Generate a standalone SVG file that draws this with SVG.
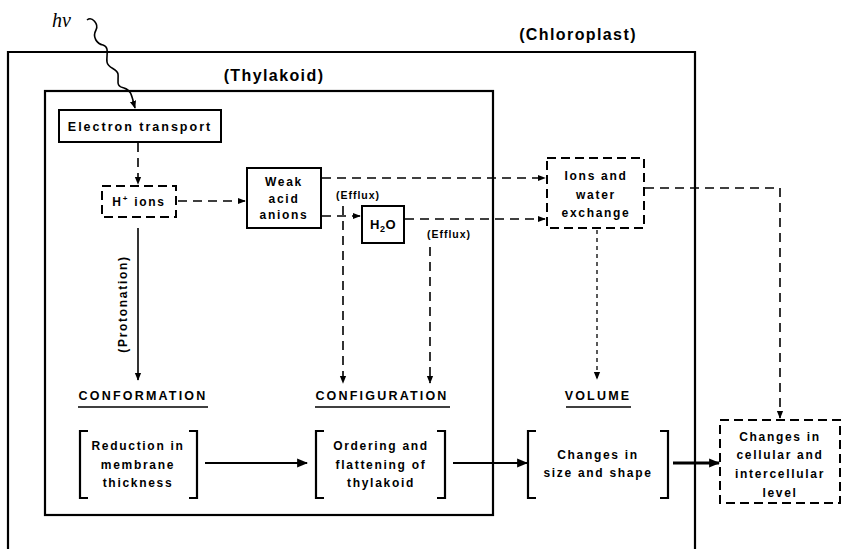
<svg xmlns="http://www.w3.org/2000/svg" width="843" height="549" viewBox="0 0 843 549">
  <defs>
    <style>
      .t { font-family: "Liberation Sans", Arial, sans-serif; font-weight: bold; font-size: 12px; letter-spacing: 1.7px; fill: #000; text-anchor: middle; }
      .big { font-size: 16px; letter-spacing: 1.4px; }
      .head { font-size: 12.5px; letter-spacing: 2.2px; }
      .lbl { font-size: 10.5px; letter-spacing: 1px; }
      .box { fill: none; stroke: #000; stroke-width: 2; }
      .dbox { fill: none; stroke: #000; stroke-width: 2; stroke-dasharray: 9 5; }
      .wall { fill: none; stroke: #000; stroke-width: 2.2; }
      .brk { fill: none; stroke: #000; stroke-width: 2.2; }
      .solid { fill: none; stroke: #000; stroke-width: 1.6; }
      .dash { fill: none; stroke: #000; stroke-width: 1.6; stroke-dasharray: 9 6; }
      .dot { fill: none; stroke: #000; stroke-width: 1.3; stroke-dasharray: 4 4; }
      .ul { stroke: #000; stroke-width: 1.5; }
    </style>
    <marker id="ah" viewBox="0 0 10 10" refX="9" refY="5" markerWidth="8" markerHeight="8" markerUnits="userSpaceOnUse" orient="auto">
      <path d="M0,1 L10,5 L0,9 Z" fill="#000"/>
    </marker>
    <marker id="ahb" viewBox="0 0 10 10" refX="9" refY="5" markerWidth="11" markerHeight="11" markerUnits="userSpaceOnUse" orient="auto">
      <path d="M0,1 L10,5 L0,9 Z" fill="#000"/>
    </marker>
  </defs>
  <rect width="843" height="549" fill="#fff"/>

  <!-- compartments -->
  <g id="chloroplast">
    <path class="wall" d="M8,549 L8,52 L695,52 L695,549"/>
    <text class="t big" x="578" y="40">(Chloroplast)</text>
  </g>
  <g id="thylakoid">
    <rect class="wall" x="45" y="91" width="448" height="424"/>
    <text class="t big" x="274" y="81">(Thylakoid)</text>
  </g>

  <g id="light">
    <text x="52" y="27" font-family="Liberation Serif, serif" font-style="italic" font-size="20">hν</text>
  </g>

  <!-- nodes -->
  <g id="electron-transport">
    <rect class="box" x="59" y="110" width="162" height="32"/>
    <text class="t" x="140" y="131" style="font-size:12.5px;letter-spacing:2px">Electron transport</text>
  </g>
  <g id="h-ions">
    <rect class="dbox" x="102" y="186" width="74" height="31"/>
    <text class="t" x="139" y="206">H<tspan font-size="8" dy="-5">+</tspan><tspan dy="5"> ions</tspan></text>
  </g>
  <g id="weak-acid-anions">
    <rect class="box" x="247" y="168" width="74" height="60"/>
    <text class="t" x="284" y="186">Weak</text>
    <text class="t" x="284" y="203">acid</text>
    <text class="t" x="284" y="219">anions</text>
  </g>
  <g id="water">
    <rect class="box" x="362" y="206" width="42" height="37"/>
    <text class="t" x="383" y="229" style="font-size:13px;letter-spacing:0.5px">H<tspan font-size="9" dy="3">2</tspan><tspan dy="-3">O</tspan></text>
  </g>
  <g id="ions-water-exchange">
    <rect class="dbox" x="547" y="158" width="97" height="70"/>
    <text class="t" x="596" y="180">Ions and</text>
    <text class="t" x="596" y="199">water</text>
    <text class="t" x="596" y="217">exchange</text>
  </g>

  <g id="conformation">
    <text class="t head" x="143" y="400">CONFORMATION</text>
    <line class="ul" x1="78" y1="407" x2="208" y2="407"/>
  </g>
  <g id="configuration">
    <text class="t head" x="382" y="400">CONFIGURATION</text>
    <line class="ul" x1="315" y1="407" x2="450" y2="407"/>
  </g>
  <g id="volume">
    <text class="t head" x="598" y="400">VOLUME</text>
    <line class="ul" x1="566" y1="407" x2="631" y2="407"/>
  </g>

  <g id="membrane-thickness">
    <path class="brk" d="M88,431 L80,431 L80,498 L88,498 M189,431 L197,431 L197,498 L189,498"/>
    <text class="t" x="138" y="450">Reduction in</text>
    <text class="t" x="138" y="469">membrane</text>
    <text class="t" x="138" y="487">thickness</text>
  </g>
  <g id="thylakoid-ordering">
    <path class="brk" d="M324,431 L316,431 L316,498 L324,498 M437,431 L445,431 L445,498 L437,498"/>
    <text class="t" x="381" y="450">Ordering and</text>
    <text class="t" x="381" y="469">flattening of</text>
    <text class="t" x="381" y="487">thylakoid</text>
  </g>
  <g id="size-shape">
    <path class="brk" d="M536,431 L528,431 L528,498 L536,498 M660,431 L668,431 L668,498 L660,498"/>
    <text class="t" x="598" y="459">Changes in</text>
    <text class="t" x="598" y="477">size and shape</text>
  </g>
  <g id="cellular-level">
    <rect class="dbox" x="720" y="420" width="120" height="83"/>
    <text class="t" x="780" y="441">Changes in</text>
    <text class="t" x="780" y="459">cellular and</text>
    <text class="t" x="780" y="478">intercellular</text>
    <text class="t" x="780" y="497">level</text>
  </g>

  <!-- connectors -->
  <g id="connectors">
    <path class="solid" marker-end="url(#ah)" d="M87,20 C92,16 99,24 96,30 C92,37 97,44 103,45 C110,47 106,56 107,62 C108,69 117,68 118,74 C119,81 115,86 124,88 C132,90 132,98 135,108"/>
    <line class="dash" marker-end="url(#ah)" x1="138" y1="143" x2="138" y2="184"/>
    <line class="dash" marker-end="url(#ah)" x1="178" y1="201" x2="245" y2="201"/>
    <line class="dash" marker-end="url(#ah)" x1="322" y1="178" x2="545" y2="178"/>
    <line class="dash" marker-end="url(#ah)" x1="322" y1="216" x2="360" y2="216"/>
    <line class="dash" marker-end="url(#ah)" x1="343" y1="206" x2="343" y2="383"/>
    <line class="dash" marker-end="url(#ah)" x1="405" y1="219" x2="545" y2="219"/>
    <line class="dash" marker-end="url(#ah)" x1="430" y1="247" x2="430" y2="383"/>
    <line class="dot" marker-end="url(#ah)" x1="597" y1="230" x2="597" y2="379"/>
    <path class="dash" marker-end="url(#ah)" d="M645,188 L780,188 L780,418"/>
    <line class="solid" marker-end="url(#ah)" x1="138" y1="228" x2="138" y2="380"/>
    <line class="solid" style="stroke-width:2" marker-end="url(#ahb)" x1="205" y1="463" x2="307" y2="463"/>
    <line class="solid" style="stroke-width:2" marker-end="url(#ahb)" x1="453" y1="463" x2="527" y2="463"/>
    <line class="solid" style="stroke-width:3" marker-end="url(#ahb)" x1="673" y1="463" x2="719" y2="463"/>
    <text class="t lbl" x="358" y="199">(Efflux)</text>
    <text class="t lbl" x="449" y="238">(Efflux)</text>
    <text class="t" transform="translate(127,304) rotate(-90)">(Protonation)</text>
  </g>
</svg>
